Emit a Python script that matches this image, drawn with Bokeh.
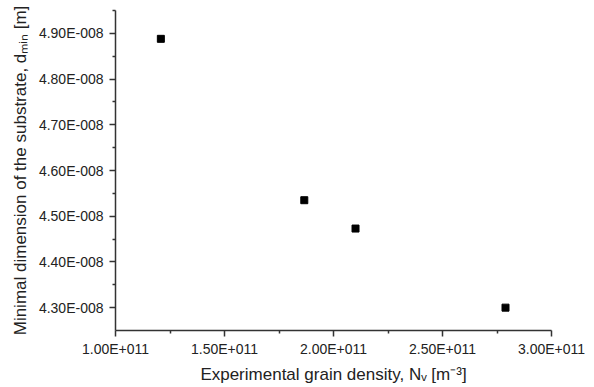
from bokeh.plotting import figure
from bokeh.models import FixedTicker, Range1d
from bokeh.embed import file_html
from bokeh.resources import INLINE

# Data
grain_density = [1.208e11, 1.866e11, 2.101e11, 2.789e11]
d_min = [4.888e-8, 4.535e-8, 4.473e-8, 4.300e-8]

x_ticks = [1.0e11, 1.5e11, 2.0e11, 2.5e11, 3.0e11]
x_tick_labels = ["1.00E+011", "1.50E+011", "2.00E+011", "2.50E+011", "3.00E+011"]
x_minor = [1.25e11, 1.75e11, 2.25e11, 2.75e11]

y_ticks = [4.3e-8, 4.4e-8, 4.5e-8, 4.6e-8, 4.7e-8, 4.8e-8, 4.9e-8]
y_tick_labels = ["4.30E-008", "4.40E-008", "4.50E-008", "4.60E-008",
                 "4.70E-008", "4.80E-008", "4.90E-008"]
y_minor = [4.35e-8, 4.45e-8, 4.55e-8, 4.65e-8, 4.75e-8, 4.85e-8, 4.95e-8]

x_title = "Experimental grain density, N\u1d65 [m\u207b\u00b3]"
y_title = "Minimal dimension of the substrate, d\u2098\u1d62\u2099 [m]"

p = figure(width=594, height=387, output_backend="svg", toolbar_location=None,
           x_range=Range1d(1.0e11, 3.0e11), y_range=Range1d(4.25e-8, 4.95e-8),
           frame_width=436, frame_height=320,
           min_border_left=115, min_border_right=43, min_border_top=10, min_border_bottom=57)

p.scatter(grain_density, d_min, marker="square", size=7, color="black")

p.outline_line_color = None
p.xgrid.visible = False
p.ygrid.visible = False
p.background_fill_color = "white"
p.border_fill_color = "white"

font = "Liberation Sans"
for ax in (p.xaxis[0], p.yaxis[0]):
    ax.axis_line_color = "#333333"
    ax.axis_line_width = 1.5
    ax.major_tick_line_color = "#333333"
    ax.minor_tick_line_color = "#333333"
    ax.major_tick_line_width = 1.5
    ax.minor_tick_line_width = 1.5
    ax.major_tick_in = 0
    ax.major_tick_out = 6
    ax.minor_tick_in = 0
    ax.minor_tick_out = 3
    ax.major_label_text_font = font
    ax.major_label_text_font_size = "14px"
    ax.major_label_text_color = "#222222"
    ax.axis_label_text_font = font
    ax.axis_label_text_font_style = "normal"
    ax.axis_label_text_color = "#222222"

p.xaxis[0].ticker = FixedTicker(ticks=x_ticks, minor_ticks=x_minor)
p.xaxis[0].major_label_overrides = dict(zip(x_ticks, x_tick_labels))
p.xaxis[0].axis_label = x_title
p.xaxis[0].axis_label_text_font_size = "17px"
p.xaxis[0].major_label_standoff = 4
p.xaxis[0].axis_label_standoff = 5

p.yaxis[0].ticker = FixedTicker(ticks=y_ticks, minor_ticks=y_minor)
p.yaxis[0].major_label_overrides = dict(zip(y_ticks, y_tick_labels))
p.yaxis[0].axis_label = y_title
p.yaxis[0].axis_label_text_font_size = "17px"
p.yaxis[0].major_label_standoff = 6
p.yaxis[0].axis_label_standoff = 6

open("out.html", "w").write(file_html(p, INLINE))
